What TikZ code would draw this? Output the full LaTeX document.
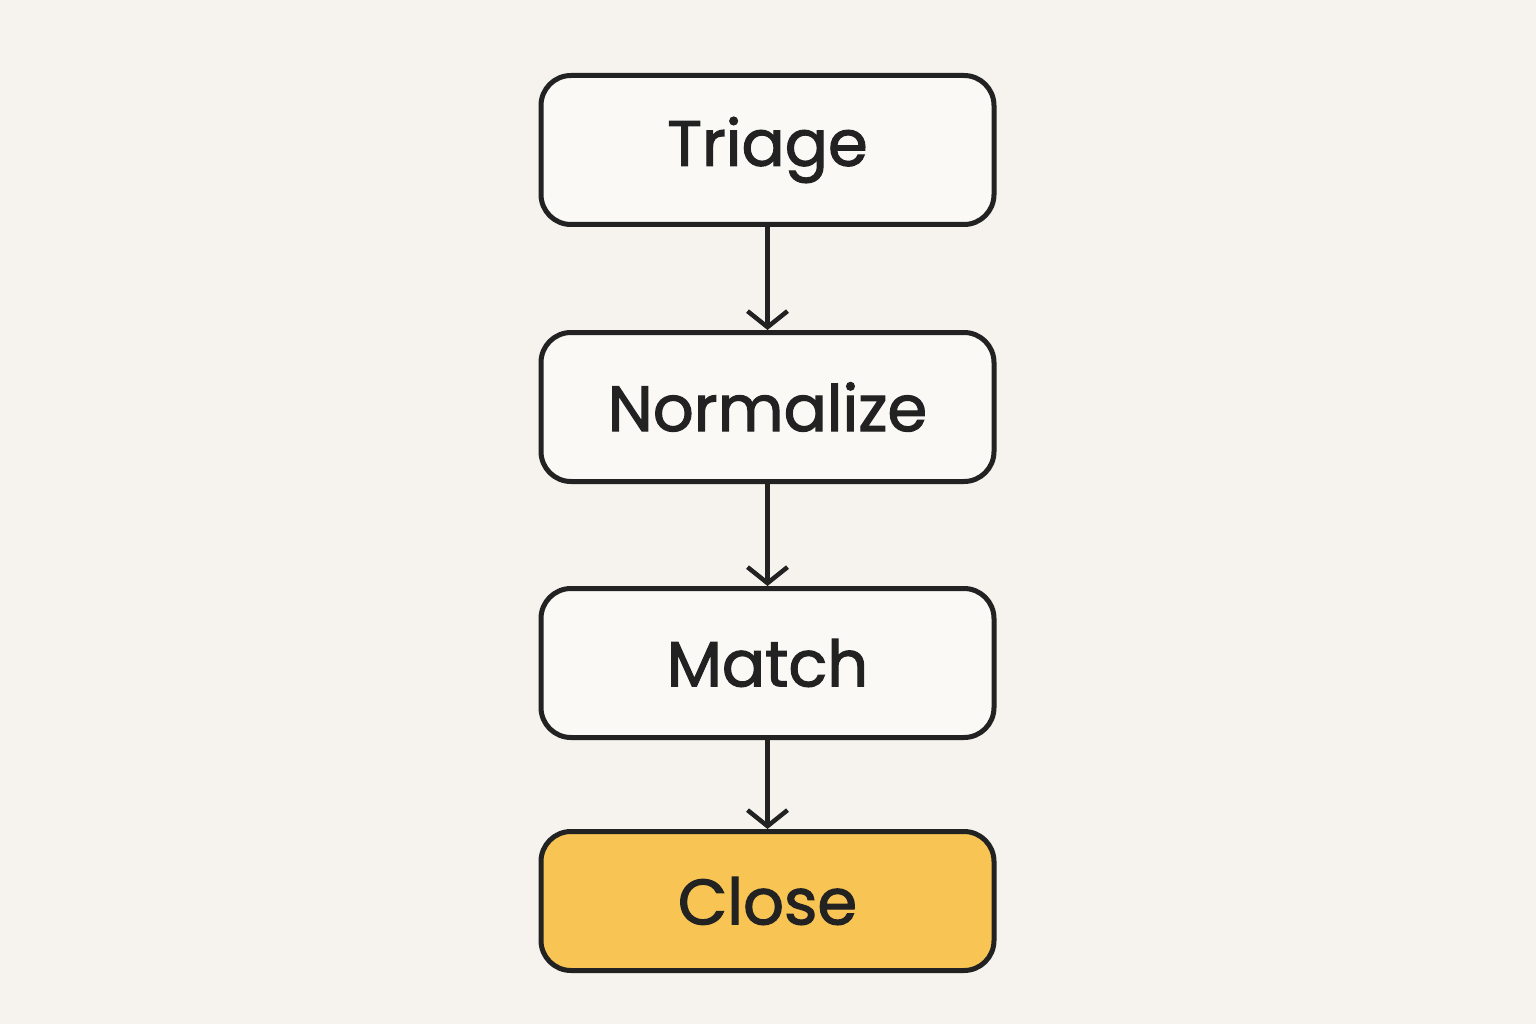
\documentclass[tikz,border=0pt]{standalone}
\usepackage{fontspec}
\setmainfont{Poppins}[FakeBold=1.8]
\usetikzlibrary{arrows.meta}
\definecolor{bg}{HTML}{F6F3EE}
\definecolor{boxfill}{HTML}{FAF9F6}
\definecolor{gold}{HTML}{F8C555}
\definecolor{ink}{HTML}{222222}
\begin{document}
\begin{tikzpicture}[x=1pt,y=-1pt,
  box/.style={draw=ink,line width=5pt,rounded corners=30pt,fill=boxfill,minimum width=453pt,minimum height=149pt,font=\fontsize{64}{74}\selectfont,text=ink},
  arr/.style={draw=ink,line width=4.5pt,-{Straight Barb[length=16pt,width=40pt,line width=4.5pt]}}]
\fill[bg] (0,0) rectangle (1536,1024);
\useasboundingbox (0,0) rectangle (1536,1024);
\node[box] (t) at (767.5,150) {Triage};
\node[box] (n) at (767.5,407) {Normalize};
\node[box] (m) at (767.5,663) {Match};
\node[box,fill=gold,minimum height=139pt] (c) at (767.5,901) {Close};
\draw[arr] (t) -- (n);
\draw[arr] (n) -- (m);
\draw[arr] (m) -- (c);
\end{tikzpicture}
\end{document}
